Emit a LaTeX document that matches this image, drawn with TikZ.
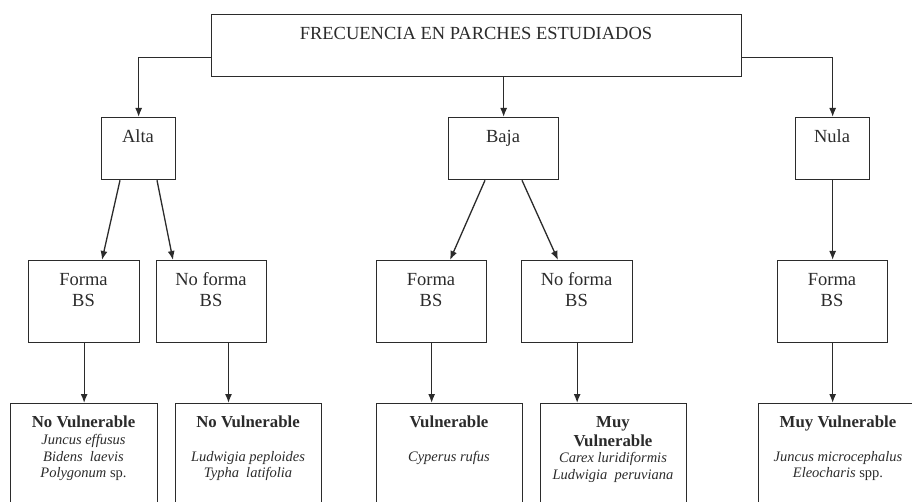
\documentclass[tikz,border=0pt]{standalone}
\usepackage{fontspec}
\setmainfont{Liberation Serif}
\usetikzlibrary{arrows.meta,calc}
\definecolor{ink}{HTML}{2B2B2B}
\begin{document}
\begin{tikzpicture}[x=1pt,y=-1pt,
 box/.style={draw=ink,line width=1.3pt,rectangle,inner sep=0pt,anchor=north west},
 arr/.style={draw=ink,line width=1.3pt,-{Latex[length=9pt,width=7pt]}},
 txt/.style={text=ink,font=\fontsize{18.5}{20}\selectfont,anchor=base,inner sep=0pt},
 hd/.style={text=ink,font=\fontsize{16.8}{18}\selectfont\bfseries,anchor=base,inner sep=0pt},
 spp/.style={text=ink,font=\fontsize{14.5}{17}\selectfont,anchor=base,inner sep=0pt}]
\useasboundingbox (0,0) rectangle (912,502);
\begin{scope}
\clip (0,0) rectangle (912,502);
% boxes
\node[box,minimum width=530pt,minimum height=62pt] (top) at (211,14) {};
\node[box,minimum width=74pt,minimum height=62pt] (alta) at (101,117) {};
\node[box,minimum width=110pt,minimum height=62pt] (baja) at (448,117) {};
\node[box,minimum width=74pt,minimum height=62pt] (nula) at (795,117) {};
\node[box,minimum width=111pt,minimum height=82pt] (af) at (28,260) {};
\node[box,minimum width=110pt,minimum height=82pt] (anf) at (156,260) {};
\node[box,minimum width=110pt,minimum height=82pt] (bf) at (376,260) {};
\node[box,minimum width=111pt,minimum height=82pt] (bnf) at (521,260) {};
\node[box,minimum width=110pt,minimum height=82pt] (nf) at (777,260) {};
\node[box,minimum width=147pt,minimum height=120pt] (l1) at (10,403) {};
\node[box,minimum width=146pt,minimum height=120pt] (l2) at (175,403) {};
\node[box,minimum width=146pt,minimum height=120pt] (l3) at (376,403) {};
\node[box,minimum width=146pt,minimum height=120pt] (l4) at (540,403) {};
\node[box,minimum width=160pt,minimum height=120pt] (l5) at (758,403) {};
\coordinate (pa) at ($(anf.south west)+(72.5,0)$);
% connectors
\draw[arr] ($(top.south west)+(0,-20)$) -| (alta.north);
\draw[arr] (baja.north |- top.south) -- (baja.north);
\draw[arr] ($(top.south east)+(0,-20)$) -| (nula.north);
\draw[arr] ($(alta.south west)+(19,0)$) -- ($(af.north west)+(74,0)$);
\draw[arr] ($(alta.south west)+(56,0)$) -- ($(anf.north west)+(17,0)$);
\draw[arr] ($(baja.south west)+(37,0)$) -- ($(bf.north west)+(74,0)$);
\draw[arr] ($(baja.south west)+(74,0)$) -- ($(bnf.north west)+(37,0)$);
\draw[arr] (nula.south) -- (nf.north);
\draw[arr] (af.south) -- (af.south |- l1.north);
\draw[arr] (pa) -- (pa |- l2.north);
\draw[arr] (bf.south) -- (bf.south |- l3.north);
\draw[arr] (bnf.south) -- (bnf.south |- l4.north);
\draw[arr] (nf.south) -- (nf.south |- l5.north);
% texts
\node[txt] (ttop) at (476,40) {FRECUENCIA EN PARCHES ESTUDIADOS};
\node[txt] (talta) at (138,142.5) {Alta};
\node[txt] (tbaja) at (503,142.5) {Baja};
\node[txt] (tnula) at (832,142.5) {Nula};
\node[txt] (taf1) at (83.5,286) {Forma};
\node[txt] (taf2) at (83.5,306.5) {BS};
\node[txt] (tanf1) at (211,286) {No forma};
\node[txt] (tanf2) at (211,306.5) {BS};
\node[txt] (tbf1) at (431,286) {Forma};
\node[txt] (tbf2) at (431,306.5) {BS};
\node[txt] (tbnf1) at (576.5,286) {No forma};
\node[txt] (tbnf2) at (576.5,306.5) {BS};
\node[txt] (tnf1) at (832,286) {Forma};
\node[txt] (tnf2) at (832,306.5) {BS};
% leaf 1
\node[hd] (h1) at (83.5,427.5) {No Vulnerable};
\node[spp] (s11) at (83.5,444) {\itshape Juncus effusus};
\node[spp] (s12) at (83.5,461) {\itshape Bidens\ \ laevis};
\node[spp] (s13) at (83.5,477.5) {\textit{Polygonum} sp.};
% leaf 2
\node[hd] (h2) at (248,427.5) {No Vulnerable};
\node[spp] (s21) at (248,461) {\itshape Ludwigia peploides};
\node[spp] (s22) at (248,477.5) {\itshape Typha\ \ latifolia};
% leaf 3
\node[hd] (h3) at (449,427.5) {Vulnerable};
\node[spp] (s31) at (449,461) {\itshape Cyperus rufus};
% leaf 4
\node[hd] (h4a) at (613,427) {Muy};
\node[hd] (h4b) at (613,446) {Vulnerable};
\node[spp] (s41) at (613,462.5) {\itshape Carex luridiformis};
\node[spp] (s42) at (613,479) {\itshape Ludwigia\ \ peruviana};
% leaf 5
\node[hd] (h5) at (838,427.5) {Muy Vulnerable};
\node[spp] (s51) at (838,461) {\itshape Juncus microcephalus};
\node[spp] (s52) at (838,477.5) {\textit{Eleocharis} spp.};
\end{scope}
\end{tikzpicture}
\end{document}
